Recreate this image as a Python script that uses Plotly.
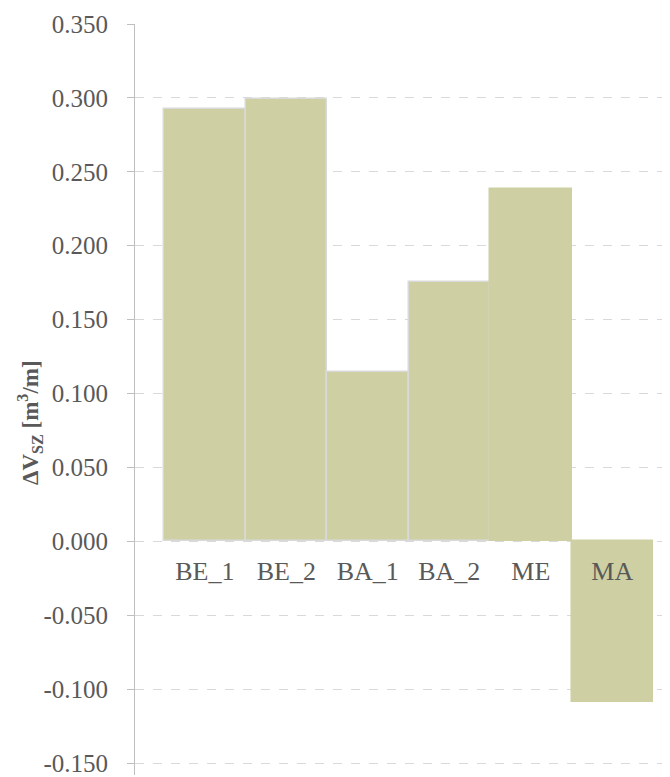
import plotly.graph_objects as go

# datos
categories = ["BE_1", "BE_2", "BA_1", "BA_2", "ME", "MA"]
dv_sz = [0.2925, 0.2992, 0.1145, 0.1755, 0.2387, -0.1084]
y_ticks = [-0.15, -0.10, -0.05, 0.0, 0.05, 0.10, 0.15, 0.20, 0.25, 0.30, 0.35]
y_tick_labels = ["-0.150", "-0.100", "-0.050", "0.000", "0.050", "0.100",
                 "0.150", "0.200", "0.250", "0.300", "0.350"]

bar_color = "#CED0A3"
edge_colors = ["#D9D9D9", "#D9D9D9", "#D9D9D9", "#D9D9D9", bar_color, bar_color]
font = "Liberation Serif, Times New Roman, serif"
grey_txt = "#595959"

y_min, y_max = -0.1581, 0.35

# la pagina tiene 8px de margen en el body
W, H = 662, 769
m_l, m_t = 127, 16

fig = go.Figure()
fig.add_trace(
    go.Bar(
        x=categories,
        y=dv_sz,
        width=1,
        marker=dict(color=bar_color, line=dict(color=edge_colors, width=1.5)),
        showlegend=False,
    )
)

fig.update_layout(
    width=W,
    height=H,
    margin=dict(l=m_l, r=0, t=m_t, b=0),
    plot_bgcolor="white",
    paper_bgcolor="white",
    bargap=0,
    font=dict(family=font, color=grey_txt, size=25),
    xaxis=dict(
        range=[-0.856, 5.708],
        anchor="free",
        position=(0 - y_min) / (y_max - y_min),
        showgrid=False,
        showline=False,
        ticks="",
        ticklabelstandoff=12,
        tickfont=dict(family=font, size=26, color=grey_txt),
    ),
    yaxis=dict(
        range=[y_min, y_max],
        tickvals=y_ticks,
        ticktext=y_tick_labels,
        ticklabeloverflow="allow",
        showgrid=True,
        gridcolor="#D9D9D9",
        griddash="dash",
        gridwidth=1,
        zeroline=False,
        showline=True,
        linecolor="#BFBFBF",
        linewidth=1,
        ticks="outside",
        ticklen=7,
        tickcolor="#BFBFBF",
        ticklabelstandoff=14,
        tickfont=dict(family=font, size=25, color=grey_txt),
    ),
    annotations=[
        dict(
            text="<b>ΔV<sub>SZ</sub> [m<sup>3</sup>/m]</b>",
            xref="paper",
            yref="paper",
            x=(30 - 8 - m_l) / (W - m_l),
            y=(777 - 424) / (H - m_t),
            xanchor="center",
            yanchor="middle",
            textangle=-90,
            showarrow=False,
            font=dict(family=font, size=23, color=grey_txt),
        )
    ],
)

fig.write_html("out.html")
